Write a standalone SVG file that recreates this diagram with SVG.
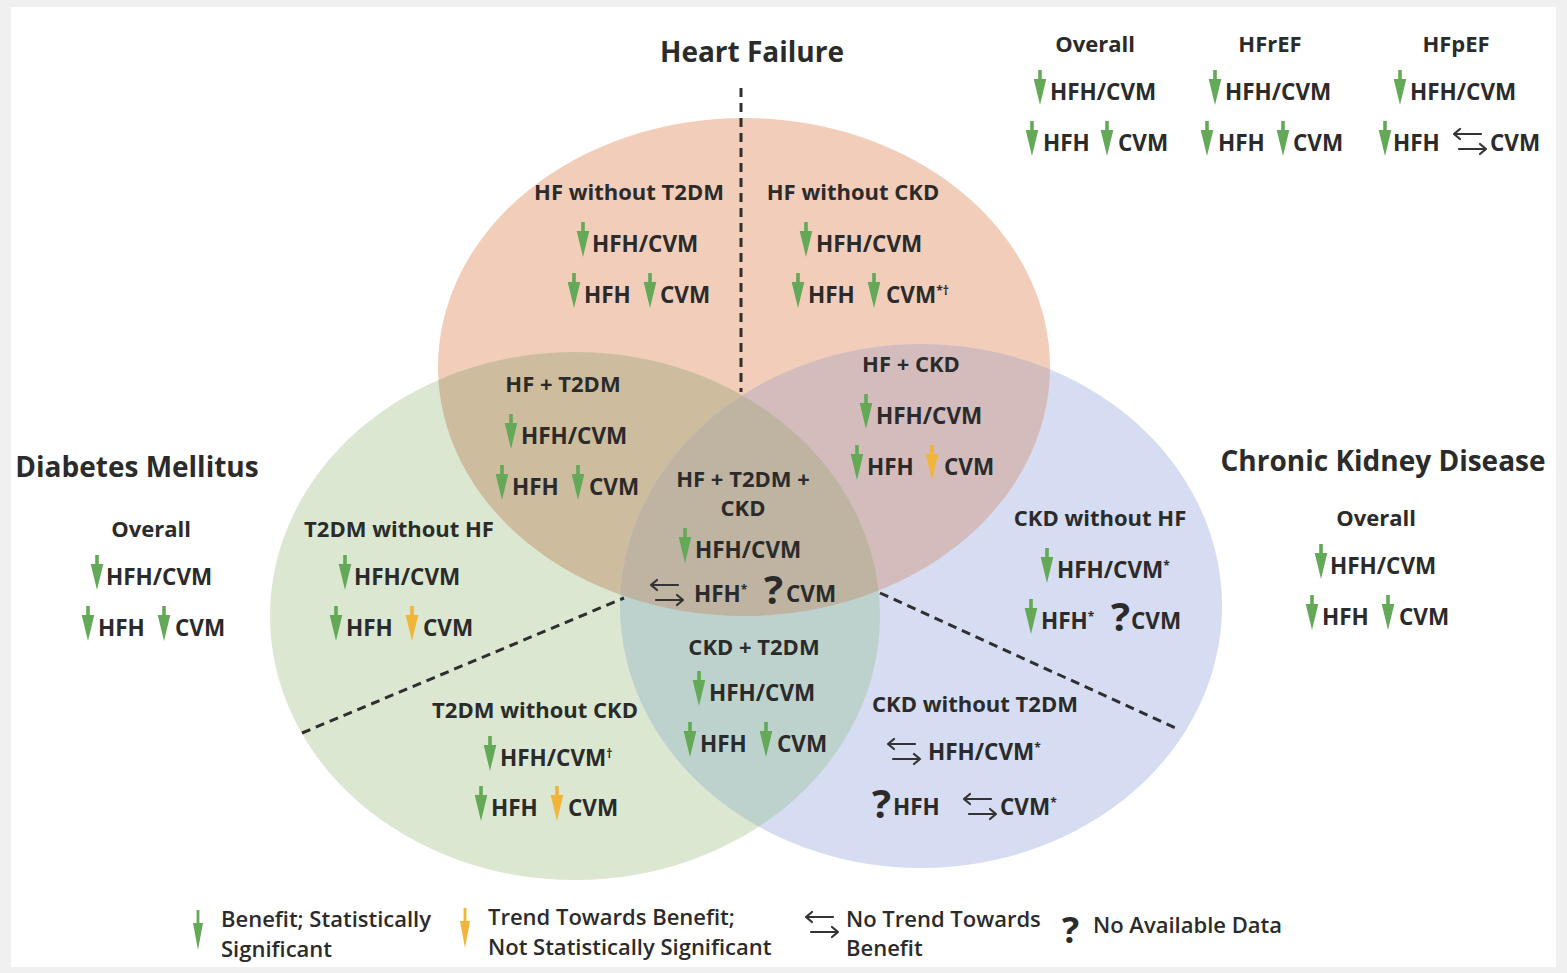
<svg xmlns="http://www.w3.org/2000/svg" xmlns:xlink="http://www.w3.org/1999/xlink" width="1567" height="973" viewBox="0 0 1567 973">
<style>
text{font-family:"Open Sans","Liberation Sans",sans-serif;fill:#2b2b2b}
.t{font-size:28px;font-weight:700;text-anchor:middle}
.h{font-size:22px;font-weight:700;text-anchor:middle}
.i{font-size:22.5px;font-weight:700}
.q{font-size:40px;font-weight:700}
.l{font-size:22px;font-weight:600}
.g{fill:#63a957}
.y{fill:#f0b53a}
.sw{fill:none;stroke:#333;stroke-width:2.2;stroke-linecap:round;stroke-linejoin:round}
.dash{stroke:#2f2f2f;stroke-width:3;stroke-dasharray:9 6;fill:none}
.sup{font-size:12px}
</style>
<defs>
<path id="a" d="M-1.8,0 H1.8 V9 L6.3,9 L0,35 L-6.3,9 H-1.8 Z"/>
<path id="al" d="M-1.4,0 H1.4 V13 L5,13 L0,40 L-5,13 H-1.4 Z"/>
<path id="sw" d="M28,-7 H1 M7,-12 L1,-7 L7,-2 M6,8 H33 M27,3 L33,8 L27,13"/>
<clipPath id="cHF"><ellipse cx="744" cy="367" rx="306" ry="249"/></clipPath>
<clipPath id="cDM"><ellipse cx="575" cy="616" rx="305" ry="264"/></clipPath>
<clipPath id="cCKD"><ellipse cx="921" cy="606" rx="301" ry="262"/></clipPath>
</defs>
<rect width="1567" height="973" fill="#f0f0f0"/>
<rect x="11" y="7" width="1545" height="960" fill="#ffffff"/>

<g id="venn">
<ellipse cx="744" cy="367" rx="306" ry="249" fill="#f2cdb9"/>
<ellipse cx="575" cy="616" rx="305" ry="264" fill="#dbe7d0"/>
<ellipse cx="921" cy="606" rx="301" ry="262" fill="#d6dcf1"/>
<ellipse cx="575" cy="616" rx="305" ry="264" fill="#cebc9e" clip-path="url(#cHF)"/>
<ellipse cx="921" cy="606" rx="301" ry="262" fill="#d4bcbc" clip-path="url(#cHF)"/>
<ellipse cx="921" cy="606" rx="301" ry="262" fill="#bdd2cc" clip-path="url(#cDM)"/>
<g clip-path="url(#cHF)"><ellipse cx="921" cy="606" rx="301" ry="262" fill="#bfb3a2" clip-path="url(#cDM)"/></g>
</g>

<g id="connectors">
<line class="dash" x1="741" y1="88" x2="741" y2="392"/>
<line class="dash" x1="302" y1="733" x2="624" y2="598"/>
<line class="dash" x1="880" y1="593" x2="1180" y2="730"/>
</g>

<g id="title-hf"><text class="t" x="752" y="62">Heart Failure</text></g>
<g id="title-dm"><text class="t" x="137" y="477">Diabetes Mellitus</text></g>
<g id="title-ckd"><text class="t" x="1383" y="471">Chronic Kidney Disease</text></g>

<g id="hf-overall">
<text class="h" x="1095" y="52">Overall</text>
<use href="#a" x="1040" y="70" class="g"/><text class="i" x="1050" y="100">HFH/CVM</text>
<use href="#a" x="1032" y="121" class="g"/><text class="i" x="1043" y="151">HFH</text>
<use href="#a" x="1107" y="121" class="g"/><text class="i" x="1118" y="151">CVM</text>
</g>
<g id="hf-hfref">
<text class="h" x="1270" y="52">HFrEF</text>
<use href="#a" x="1215" y="70" class="g"/><text class="i" x="1225" y="100">HFH/CVM</text>
<use href="#a" x="1207" y="121" class="g"/><text class="i" x="1218" y="151">HFH</text>
<use href="#a" x="1283" y="121" class="g"/><text class="i" x="1293" y="151">CVM</text>
</g>
<g id="hf-hfpef">
<text class="h" x="1456" y="52">HFpEF</text>
<use href="#a" x="1400" y="70" class="g"/><text class="i" x="1410" y="100">HFH/CVM</text>
<use href="#a" x="1385" y="121" class="g"/><text class="i" x="1393" y="151">HFH</text>
<use href="#sw" x="1453" y="141" class="sw"/><text class="i" x="1490" y="151">CVM</text>
</g>

<g id="hf-without-t2dm">
<text class="h" x="629" y="200">HF without T2DM</text>
<use href="#a" x="583" y="222" class="g"/><text class="i" x="592" y="252">HFH/CVM</text>
<use href="#a" x="574" y="273" class="g"/><text class="i" x="584" y="303">HFH</text>
<use href="#a" x="650" y="273" class="g"/><text class="i" x="660" y="303">CVM</text>
</g>

<g id="hf-without-ckd">
<text class="h" x="853" y="200">HF without CKD</text>
<use href="#a" x="806" y="222" class="g"/><text class="i" x="816" y="252">HFH/CVM</text>
<use href="#a" x="798" y="273" class="g"/><text class="i" x="808" y="303">HFH</text>
<use href="#a" x="874" y="273" class="g"/><text class="i" x="886" y="303">CVM<tspan class="sup" dy="-8">*†</tspan></text>
</g>

<g id="hf-t2dm">
<text class="h" x="563" y="392">HF + T2DM</text>
<use href="#a" x="511" y="414" class="g"/><text class="i" x="521" y="444">HFH/CVM</text>
<use href="#a" x="502" y="465" class="g"/><text class="i" x="512" y="495">HFH</text>
<use href="#a" x="578" y="465" class="g"/><text class="i" x="589" y="495">CVM</text>
</g>

<g id="hf-ckd">
<text class="h" x="911" y="372">HF + CKD</text>
<use href="#a" x="866" y="394" class="g"/><text class="i" x="876" y="424">HFH/CVM</text>
<use href="#a" x="857" y="445" class="g"/><text class="i" x="867" y="475">HFH</text>
<use href="#a" x="932" y="445" class="y"/><text class="i" x="944" y="475">CVM</text>
</g>

<g id="hf-t2dm-ckd">
<text class="h" x="743" y="487">HF +  T2DM +</text>
<text class="h" x="743" y="516">CKD</text>
<use href="#a" x="685" y="528" class="g"/><text class="i" x="695" y="558">HFH/CVM</text>
<use href="#sw" x="650" y="592" class="sw"/><text class="i" x="694" y="602">HFH<tspan class="sup" dy="-8">*</tspan></text>
<text class="q" x="764" y="604">?</text><text class="i" x="786" y="602">CVM</text>
</g>

<g id="t2dm-without-hf">
<text class="h" x="399" y="537">T2DM without HF</text>
<use href="#a" x="345" y="555" class="g"/><text class="i" x="354" y="585">HFH/CVM</text>
<use href="#a" x="336" y="606" class="g"/><text class="i" x="346" y="636">HFH</text>
<use href="#a" x="412" y="606" class="y"/><text class="i" x="423" y="636">CVM</text>
</g>

<g id="dm-overall">
<text class="h" x="151" y="537">Overall</text>
<use href="#a" x="97" y="555" class="g"/><text class="i" x="106" y="585">HFH/CVM</text>
<use href="#a" x="88" y="606" class="g"/><text class="i" x="98" y="636">HFH</text>
<use href="#a" x="164" y="606" class="g"/><text class="i" x="175" y="636">CVM</text>
</g>

<g id="ckd-t2dm">
<text class="h" x="754" y="655">CKD + T2DM</text>
<use href="#a" x="699" y="671" class="g"/><text class="i" x="709" y="701">HFH/CVM</text>
<use href="#a" x="690" y="722" class="g"/><text class="i" x="700" y="752">HFH</text>
<use href="#a" x="766" y="722" class="g"/><text class="i" x="777" y="752">CVM</text>
</g>

<g id="t2dm-without-ckd">
<text class="h" x="535" y="718">T2DM without CKD</text>
<use href="#a" x="490" y="736" class="g"/><text class="i" x="500" y="766">HFH/CVM<tspan class="sup" dy="-8">†</tspan></text>
<use href="#a" x="481" y="786" class="g"/><text class="i" x="491" y="816">HFH</text>
<use href="#a" x="557" y="786" class="y"/><text class="i" x="568" y="816">CVM</text>
</g>

<g id="ckd-without-hf">
<text class="h" x="1100" y="526">CKD without HF</text>
<use href="#a" x="1047" y="548" class="g"/><text class="i" x="1057" y="578">HFH/CVM<tspan class="sup" dy="-8">*</tspan></text>
<use href="#a" x="1031" y="599" class="g"/><text class="i" x="1041" y="629">HFH<tspan class="sup" dy="-8">*</tspan></text>
<text class="q" x="1111" y="631">?</text><text class="i" x="1131" y="629">CVM</text>
</g>

<g id="ckd-without-t2dm">
<text class="h" x="975" y="712">CKD without T2DM</text>
<use href="#sw" x="887" y="751" class="sw"/><text class="i" x="928" y="760">HFH/CVM<tspan class="sup" dy="-8">*</tspan></text>
<text class="q" x="872" y="818">?</text><text class="i" x="893" y="815">HFH</text>
<use href="#sw" x="963" y="806" class="sw"/><text class="i" x="1000" y="815">CVM<tspan class="sup" dy="-8">*</tspan></text>
</g>

<g id="ckd-overall">
<text class="h" x="1376" y="526">Overall</text>
<use href="#a" x="1321" y="544" class="g"/><text class="i" x="1330" y="574">HFH/CVM</text>
<use href="#a" x="1312" y="595" class="g"/><text class="i" x="1322" y="625">HFH</text>
<use href="#a" x="1388" y="595" class="g"/><text class="i" x="1399" y="625">CVM</text>
</g>

<g id="legend">
<use href="#al" x="198" y="910" class="g"/>
<text class="l" x="221" y="927">Benefit; Statistically</text>
<text class="l" x="221" y="957">Significant</text>
<use href="#al" x="465" y="908" class="y"/>
<text class="l" x="488" y="925">Trend Towards Benefit;</text>
<text class="l" x="488" y="955">Not Statistically Significant</text>
<use href="#sw" x="805" y="924" class="sw"/>
<text class="l" x="846" y="927">No Trend Towards</text>
<text class="l" x="846" y="956">Benefit</text>
<text class="q" x="1062" y="943" style="font-size:36px">?</text>
<text class="l" x="1093" y="933">No Available Data</text>
</g>
</svg>
